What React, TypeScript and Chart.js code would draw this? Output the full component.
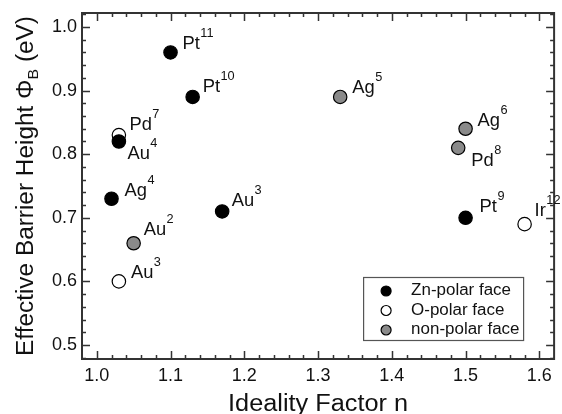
import React, { useEffect, useRef } from "react";
import { Chart, registerables } from "chart.js";

Chart.register(...registerables);

// ---------- data ----------
const xTicks = [1.0, 1.1, 1.2, 1.3, 1.4, 1.5, 1.6];
const yTicks = [0.5, 0.6, 0.7, 0.8, 0.9, 1.0];
const xTitle = "Ideality Factor n";
const yTitleMain = "Effective Barrier Height Φ";
const yTitleSub = "B";
const yTitleEnd = " (eV)";
const seriesNames = ["Zn-polar face", "O-polar face", "non-polar face"];

const znX = [1.10, 1.13, 1.03, 1.02, 1.17, 1.50];
const znY = [0.96, 0.89, 0.82, 0.73, 0.71, 0.70];
const znMetal = ["Pt", "Pt", "Au", "Ag", "Au", "Pt"];
const znRef = ["11", "10", "4", "4", "3", "9"];

const oX = [1.03, 1.03, 1.58];
const oY = [0.83, 0.60, 0.69];
const oMetal = ["Pd", "Au", "Ir"];
const oRef = ["7", "3", "12"];

const npX = [1.33, 1.50, 1.49, 1.05];
const npY = [0.89, 0.84, 0.81, 0.66];
const npMetal = ["Ag", "Ag", "Pd", "Au"];
const npRef = ["5", "6", "8", "2"];

// label placement (offset of text start / baseline from the point centre)
const znOffsets = [[12, -3.5], [10, -5], [8.5, 18], [13, -2.5], [9.5, -5], [14, -6]];
const oOffsets = [[10.5, -5], [12, -3.5], [10, -8]];
const npOffsets = [[12, -3.5], [12, -2.5], [13, 18], [10, -8]];

const FONT = '"Liberation Sans", Arial, Helvetica, sans-serif';
const AXIS = "#333";

function stretchText(ctx: CanvasRenderingContext2D, text: string, x: number, y: number, sx: number) {
  ctx.save();
  ctx.translate(x, y);
  ctx.scale(sx, 1);
  ctx.fillText(text, 0, 0);
  ctx.restore();
  return ctx.measureText(text).width * sx;
}

const decorPlugin = {
  id: "decor",
  afterDraw(chart: any) {
    const ctx: CanvasRenderingContext2D = chart.ctx;
    const { left, right, top, bottom } = chart.chartArea;
    const xs = chart.scales.x;
    const ys = chart.scales.y;
    ctx.save();

    // ticks (inward, on all four sides)
    ctx.strokeStyle = AXIS;
    ctx.lineWidth = 1.5;
    const major = 8;
    const minor = 4;
    const isMajor = (v: number, arr: number[]) => arr.some((t) => Math.abs(t - v) < 1e-6);
    ctx.beginPath();
    for (let i = 49; i <= 81; i++) {
      const v = i / 50;
      if (v <= xs.min + 1e-6 || v >= xs.max - 1e-6) continue;
      const px = Math.round(xs.getPixelForValue(v)) + 0.5;
      const len = isMajor(v, xTicks) ? major : minor;
      ctx.moveTo(px, bottom);
      ctx.lineTo(px, bottom - len);
      ctx.moveTo(px, top);
      ctx.lineTo(px, top + len);
    }
    for (let i = 23; i <= 52; i++) {
      const v = i / 50;
      if (v <= ys.min + 1e-6 || v >= ys.max - 1e-6) continue;
      const py = Math.round(ys.getPixelForValue(v)) + 0.5;
      const len = isMajor(v, yTicks) ? major : minor;
      ctx.moveTo(left, py);
      ctx.lineTo(left + len, py);
      ctx.moveTo(right, py);
      ctx.lineTo(right - len, py);
    }
    ctx.stroke();

    // frame
    ctx.lineWidth = 2;
    ctx.strokeRect(left, top, right - left, bottom - top);

    // tick labels
    ctx.fillStyle = "#111";
    ctx.font = `18px ${FONT}`;
    ctx.textAlign = "center";
    ctx.textBaseline = "middle";
    xTicks.forEach((t) => {
      ctx.fillText(t.toFixed(1), xs.getPixelForValue(t), bottom + 17);
    });
    ctx.textAlign = "right";
    yTicks.forEach((t) => {
      ctx.fillText(t.toFixed(1), left - 5, ys.getPixelForValue(t));
    });

    // x title
    ctx.font = `23px ${FONT}`;
    ctx.textAlign = "left";
    ctx.textBaseline = "alphabetic";
    const sxT = 1.1;
    const wx = ctx.measureText(xTitle).width * sxT;
    stretchText(ctx, xTitle, (left + right) / 2 - wx / 2, bottom + 52, sxT);

    // y title (rotated)
    ctx.save();
    ctx.translate(33, (top + bottom) / 2);
    ctx.rotate(-Math.PI / 2);
    ctx.font = `23px ${FONT}`;
    const sy = 1.06;
    const w1 = ctx.measureText(yTitleMain).width * sy;
    const w3 = ctx.measureText(yTitleEnd).width * sy;
    ctx.font = `15px ${FONT}`;
    const w2 = ctx.measureText(yTitleSub).width * sy;
    let cx = -(w1 + w2 + w3) / 2;
    ctx.font = `23px ${FONT}`;
    stretchText(ctx, yTitleMain, cx, 0, sy);
    cx += w1;
    ctx.font = `15px ${FONT}`;
    stretchText(ctx, yTitleSub, cx, 5, sy);
    cx += w2;
    ctx.font = `23px ${FONT}`;
    stretchText(ctx, yTitleEnd, cx, 0, sy);
    ctx.restore();

    // point labels
    const groups = [
      { xs: znX, ys: znY, m: znMetal, r: znRef, off: znOffsets },
      { xs: oX, ys: oY, m: oMetal, r: oRef, off: oOffsets },
      { xs: npX, ys: npY, m: npMetal, r: npRef, off: npOffsets },
    ];
    ctx.fillStyle = "#111";
    ctx.textAlign = "left";
    ctx.textBaseline = "alphabetic";
    groups.forEach((g) => {
      g.xs.forEach((xv, i) => {
        const px = xs.getPixelForValue(xv) + g.off[i][0];
        const py = ys.getPixelForValue(g.ys[i]) + g.off[i][1];
        ctx.font = `18px ${FONT}`;
        const w = stretchText(ctx, g.m[i], px, py, 1.02);
        ctx.font = `12.5px ${FONT}`;
        stretchText(ctx, g.r[i], px + w + 0.5, py - 12, 1.02);
      });
    });

    // legend box
    const bx = right - 191;
    const by = bottom - 82;
    const bw = 160;
    const bh = 63;
    ctx.lineWidth = 1.2;
    ctx.strokeStyle = "#555";
    ctx.strokeRect(bx + 0.5, by + 0.5, bw, bh);
    ctx.font = `16px ${FONT}`;
    ctx.textBaseline = "middle";
    chart.data.datasets.forEach((ds: any, i: number) => {
      const ry = by + 14 + i * 19.5;
      ctx.beginPath();
      ctx.arc(bx + 23, ry, 5, 0, Math.PI * 2);
      ctx.fillStyle = ds.backgroundColor;
      ctx.fill();
      ctx.lineWidth = 1.2;
      ctx.strokeStyle = "#000";
      ctx.stroke();
      ctx.fillStyle = "#111";
      ctx.textBaseline = "middle";
      stretchText(ctx, ds.label, bx + 48, ry, 1.06);
    });

    ctx.restore();
  },
};

export default function App() {
  const ref = useRef<HTMLCanvasElement | null>(null);
  useEffect(() => {
    if (!ref.current) return;
    const mk = (xv: number[], yv: number[]) => xv.map((x, i) => ({ x, y: yv[i] }));
    const chart = new Chart(ref.current, {
      type: "scatter",
      data: {
        datasets: [
          { label: seriesNames[0], data: mk(znX, znY), backgroundColor: "#000000", borderColor: "#000000" },
          { label: seriesNames[1], data: mk(oX, oY), backgroundColor: "#ffffff", borderColor: "#000000" },
          { label: seriesNames[2], data: mk(npX, npY), backgroundColor: "#8a8a8a", borderColor: "#000000" },
        ].map((d) => ({ ...d, pointRadius: 6.7, pointBorderWidth: 1.2, pointHoverRadius: 6.7 })),
      },
      options: {
        responsive: false,
        animation: false,
        events: [],
        layout: { padding: { left: 82, right: 5, top: 13, bottom: 55 } },
        scales: {
          x: { type: "linear", min: 0.98, max: 1.62, display: false },
          y: { type: "linear", min: 0.478, max: 1.022, display: false },
        },
        plugins: { legend: { display: false }, tooltip: { enabled: false } },
      },
      plugins: [decorPlugin],
    });
    return () => chart.destroy();
  }, []);
  return (
    <div style={{ position: "absolute", left: 0, top: 0, width: 562, height: 414, background: "#fff" }}>
      <canvas ref={ref} width={562} height={414} style={{ display: "block" }} />
    </div>
  );
}
